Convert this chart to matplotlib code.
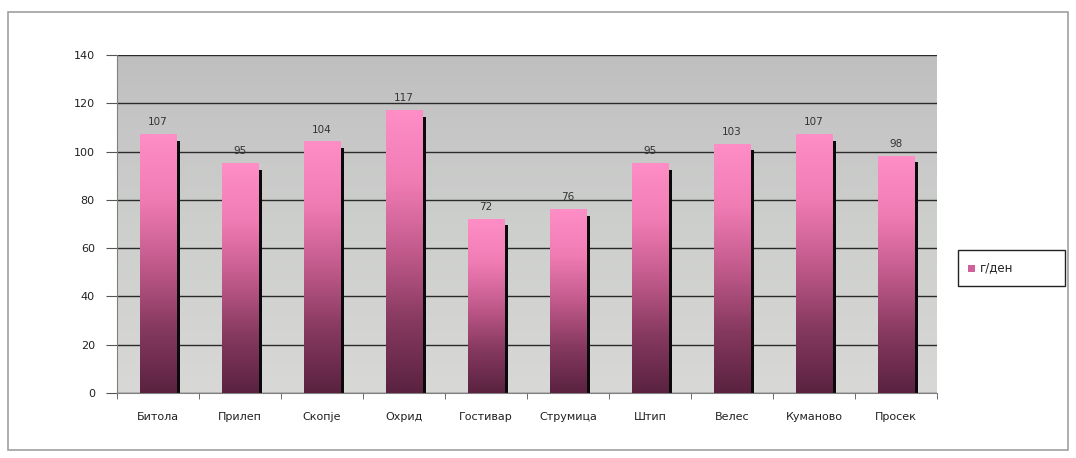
import numpy as np
import matplotlib
matplotlib.use("Agg")
import matplotlib.pyplot as plt
from matplotlib.colors import LinearSegmentedColormap
from matplotlib.patches import Rectangle

# Data
cities = ["Битола", "Прилеп", "Скопје", "Охрид", "Гостивар", "Струмица",
          "Штип", "Велес", "Куманово", "Просек"]
values = [107, 95, 104, 117, 72, 76, 95, 103, 107, 98]
series_name = "г/ден"
yticks = [0, 20, 40, 60, 80, 100, 120, 140]

BAR_W = 0.44
pink = LinearSegmentedColormap.from_list(
    "pink", ["#5a2240", "#86395f", "#c25a8c", "#f07cb4", "#ff8ec6"])
bg = LinearSegmentedColormap.from_list("bg", ["#d8d8d6", "#cdcfcd", "#bfbfbf"])

W, H = 1076, 458
fig = plt.figure(figsize=(W / 100, H / 100), dpi=100)
fig.patch.set_facecolor("white")
# outer chart frame
fig.patches.append(Rectangle((8 / W, 8 / H), 1060 / W, 438 / H,
                             transform=fig.transFigure, fill=False,
                             edgecolor="#a0a0a0", linewidth=1.2))

ax = fig.add_axes([117 / W, (H - 393) / H, 820 / W, 338 / H])
n = len(cities)
ax.set_xlim(-0.5, n - 0.5)
ax.set_ylim(0, 140)

# plot background gradient
grad = np.linspace(0, 1, 256).reshape(-1, 1)
ax.imshow(grad, extent=[-0.5, n - 0.5, 0, 140], origin="lower",
          cmap=bg, aspect="auto", zorder=0)

ax.set_yticks(yticks)
ax.grid(axis="y", color="#2a2a2a", linewidth=1, zorder=1)

x = np.arange(n)
# dark shadow bars
ax.bar(x + 0.05, np.array(values) - 2.5, width=BAR_W, color="#0a0a0a", zorder=2)

for xi, v in zip(x, values):
    ax.imshow(grad, extent=[xi - BAR_W / 2, xi + BAR_W / 2, 0, v],
              origin="lower", cmap=pink, aspect="auto", zorder=3)
    ax.text(xi, v + 3, str(v), ha="center", va="bottom", fontsize=7.5,
            color="#333333", zorder=4)

ax.set_xticks(x)
ax.set_xticklabels(cities, fontsize=8, color="#222222")
ax.set_xticks(np.arange(-0.5, n, 1), minor=True)
ax.tick_params(axis="x", which="major", length=0, pad=14)
ax.tick_params(axis="x", which="minor", length=4, color="#555555")
ax.tick_params(axis="y", length=8, labelsize=8, labelcolor="#222222",
               color="#555555", pad=8)
for s in ["top", "right"]:
    ax.spines[s].set_visible(False)
ax.spines["left"].set_color("#808080")
ax.spines["bottom"].set_color("#808080")

# legend box drawn by hand to match the original size
fig.patches.append(Rectangle((958 / W, (H - 286) / H), 107 / W, 36 / H,
                             transform=fig.transFigure, facecolor="white",
                             edgecolor="#222222", linewidth=1))
fig.patches.append(Rectangle((968 / W, (H - 272) / H), 7 / W, 7 / H,
                             transform=fig.transFigure, facecolor="#d0609a",
                             edgecolor="none"))
fig.text(980 / W, (H - 268) / H, series_name, fontsize=8.5, color="#222222",
         ha="left", va="center")

fig.savefig("out.png", dpi=100)
